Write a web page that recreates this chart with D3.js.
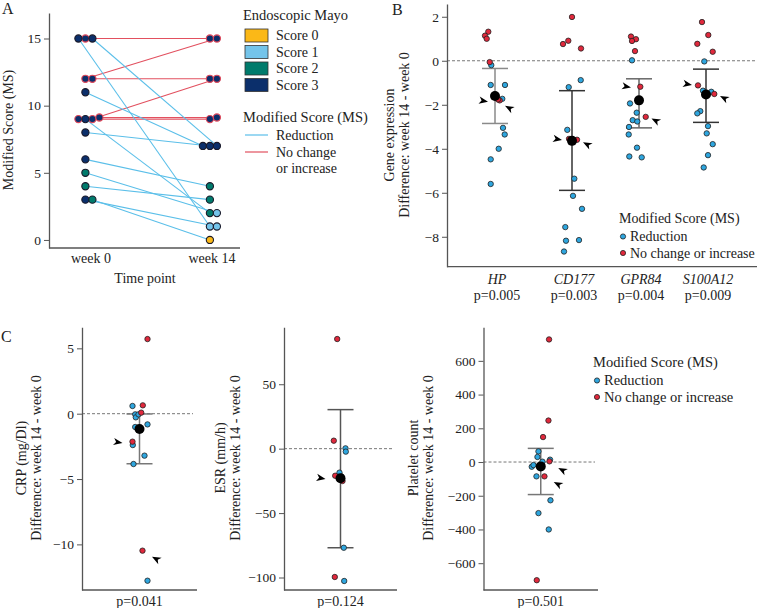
<!DOCTYPE html>
<html><head><meta charset="utf-8">
<script src="https://cdn.jsdelivr.net/npm/d3@7"></script>
<style>
body{margin:0;background:#fff}
svg{display:block}
text{font-family:"Liberation Serif","DejaVu Serif",serif;fill:#222}
</style>
</head><body><svg id="c" width="758" height="608"></svg>
<script>
// ---------------- DATA ----------------
// Panel A: Modified Score per patient at week 0 and week 14
const weeks = [0, 14];
const weekLabels = ["week 0", "week 14"];
const msWeek0  = [15,12,12, 9, 9, 9, 15,15,11, 9, 8, 6, 5, 4, 3, 3];
const msWeek14 = [15,15,12,12, 9, 9,  7, 1, 7, 2, 7, 4, 2, 3, 1, 0];
const mayoWeek0  = [3,3,3,3,3,3, 3,3,3,3,3,3,2,2,3,2];
const mayoWeek14 = [3,3,3,3,3,3, 3,1,3,2,3,2,1,2,1,0];
const msGroup = ["inc","inc","inc","inc","inc","inc","red","red","red","red","red","red","red","red","red","red"];
const slotWeek0  = [1,1,2,2,0,3, 2,0,1,1,1,1,1,1,1,2];   // dodge slot within a row
const slotWeek14 = [1,2,1,2,1,2, 2,1,0,1,1,1,2,1,2,1];
const dodgeUp    = [0,0,0,0,0,1, 0,0,0,0,0,0,0,0,0,0];
const aTicks = [0,5,10,15];
const mayoNames = ["Score 0","Score 1","Score 2","Score 3"];
const mayoColors = ["#fbb817","#74c4ea","#007b6c","#0b2f6b"];

// Panel B: gene expression difference
const genes = ["HP","CD177","GPR84","S100A12"];
const geneP = ["p=0.005","p=0.003","p=0.004","p=0.009"];
const geneMean = [-1.6,-3.64,-1.8,-1.53];
const geneLow  = [-2.85,-5.89,-3.05,-2.8];
const geneHigh = [-0.35,-1.36,-0.82,-0.38];
const bTicks = [2,0,-2,-4,-6,-8];
// [value, jitter]
const hpRed = [[-0.2,-3.7],[-1.1,-4.3],[-1.1,10],[-1.73,7.3],[-1.55,-1],[-3.05,8],[-3.35,9.7],[-4.0,3.7],[-4.48,-4.3],[-5.6,-4.3]];
const hpInc = [[1.32,-6.7],[1.14,-10],[1.0,-8.3],[-0.06,-5.3],[-1.8,4.7],[-1.76,3]];
const cd177Red = [[-0.88,8.7],[-1.2,-3.3],[-3.14,-4.7],[-5.36,2.3],[-6.14,1],[-6.73,10],[-7.56,-6.7],[-8.18,-6],[-8.15,7],[-8.67,-8]];
const cd177Inc = [[1.99,0],[0.91,-3.7],[0.76,-9],[0.56,9],[-3.55,-3],[-3.59,5]];
const gpr84Red = [[0.02,-7],[-1.94,-9],[-2.36,-2.3],[-2.7,-6.3],[-2.76,-1.7],[-3.01,-10],[-3.35,-10.3],[-3.95,-2],[-4.35,-9.7],[-4.39,2.7]];
const gpr84Inc = [[1.1,-8],[0.98,-3],[0.9,-7],[0.44,-4],[-1.18,1.3],[-2.55,6.7]];
const s100Red = [[-0.03,-1.7],[-1.36,-3],[-1.41,5.3],[-2.29,-5.7],[-2.39,-8.7],[-2.97,2],[-3.3,0.7],[-3.79,6.7],[-4.29,2],[-4.85,-2.3]];
const s100Inc = [[1.76,-4],[1.17,2.3],[0.77,-8.7],[0.41,6.7],[-1.12,-8],[-1.51,8.3]];
// arrows: [value, jitter, direction]
const hpArrows = [[-1.86,-7,"r"],[-2.05,10,"ul"]];
const cd177Arrows = [[-3.6,-10,"r"],[-3.7,11,"ul"]];
const gpr84Arrows = [[-1.21,-8,"r"],[-2.62,12.5,"ul"]];
const s100Arrows = [[-1.1,-14,"r"],[-1.6,14,"ul"]];

// Panel C: clinical markers
const crpTicks = [5,0,-5,-10];
const crpRed = [[0.59,-7],[-0.05,-4.3],[-0.28,-3.7],[-0.05,-1],[-1.02,-4.3],[-0.82,8],[-2.4,-6.7],[-3.21,5],[-3.85,-6],[-12.78,8]];
const crpInc = [[5.71,8],[0.64,3.3],[0.08,1.7],[-2.14,-7],[-10.48,3]];
const crpStats = [-1.17,-3.83,-0.02];
const crpArrows = [[-2.25,-17,"r"],[-10.95,12.5,"ul"]];

const esrTicks = [50,0,-50,-100];
const esrRed = [[0.26,5],[-2.3,5.3],[-18.6,-1],[-21.7,1],[-76.9,3.3],[-102.7,3.7]];
const esrInc = [[85.1,-3.3],[6.2,-6.7],[-21,-5.3],[-25.1,2],[-99.6,-5.7]];
const esrStats = [-23,-76.9,30.3];
const esrArrows = [[-23.5,-15,"r"]];

const pltTicks = [600,400,200,0,-200,-400,-600];
const pltRed = [[63,-2.3],[30,-3.3],[2,1.7],[-28,-9],[-18,-7.3],[14,9.3],[-85,-4.3],[-227,9.7],[-303,-2.3],[-400,8]];
const pltInc = [[727,8.3],[246,7.7],[148,2.3],[4,8.7],[-85,3.7],[-701,-4]];
const pltStats = [-26,-193,81];
const pltArrows = [[-35,17.5,"ul"],[-118,13,"ul"]];

// ---------------- DRAW ----------------
const svg = d3.select("#c");
const AX = "#555", TICK = "#333";
const COL_RED = "#2ea6df", COL_INC = "#e0283c";
const LINE_RED = "#5bbfe9", LINE_INC = "#e2505f";

function styleAxis(g){
  g.select(".domain").attr("stroke",AX).attr("stroke-width",1.3);
  g.selectAll(".tick line").attr("stroke",AX).attr("stroke-width",1);
  g.selectAll(".tick text").attr("fill",TICK).style("font-size","13.5px")
    .style("font-family",'"Liberation Serif","DejaVu Serif",serif');
}
function ylabel(x, yc, lines){
  const t = svg.append("text").attr("transform",`translate(${x},${yc}) rotate(-90)`)
    .attr("text-anchor","middle").style("font-size","14px");
  lines.forEach((l,i)=>t.append("tspan").attr("x",0).attr("dy",i===0?0:15).text(l));
}
function arrowPath(){ return "M0,0 L-9,-3.6 L-6.5,0 L-9,3.6 Z"; }

// ---- Panel A ----
const yA = d3.scaleLinear().domain([-0.6,16.9]).range([248,13]);
const xA = d3.scaleLinear().domain([0,14]).range([91,212]);
const axLeftA = 49, axRightA = 240;
svg.append("g").attr("transform",`translate(${axLeftA},0)`)
  .call(d3.axisLeft(yA).tickValues(aTicks).tickSize(5).tickSizeOuter(0).tickPadding(3)).call(styleAxis);
svg.append("line").attr("x1",axLeftA).attr("x2",axRightA).attr("y1",yA.range()[0]).attr("y2",yA.range()[0])
  .attr("stroke",AX).attr("stroke-width",1.3);
weeks.forEach((w,i)=>svg.append("text").attr("x",xA(w)).attr("y",263).attr("text-anchor","middle")
  .style("font-size","14px").text(weekLabels[i]));
svg.append("text").attr("x",145).attr("y",283).attr("text-anchor","middle").style("font-size","14px").text("Time point");
ylabel(13,130,["Modified Score (MS)"]);
svg.append("text").attr("x",2).attr("y",14).style("font-size","16px").text("A");

const px0 = i => xA(0) + (slotWeek0[i]-1.8)*7;
const px14 = i => xA(14) + (slotWeek14[i]-1.3)*7;
const py0 = i => yA(msWeek0[i]) - dodgeUp[i]*1.6;
const py14 = i => yA(msWeek14[i]) - dodgeUp[i]*1.6;
const idx = d3.range(msWeek0.length);
svg.append("g").selectAll("line").data(idx).join("line")
  .attr("x1",px0).attr("y1",py0).attr("x2",px14).attr("y2",py14)
  .attr("stroke",i=>msGroup[i]==="inc"?LINE_INC:LINE_RED).attr("stroke-width",1.1);
const ptsA = svg.append("g");
[[px0,py0,mayoWeek0],[px14,py14,mayoWeek14]].forEach(([fx,fy,mayo])=>{
  ptsA.append("g").selectAll("circle").data(idx).join("circle")
    .attr("cx",fx).attr("cy",fy).attr("r",3.6)
    .attr("fill",i=>mayoColors[mayo[i]])
    .attr("stroke",i=>msGroup[i]==="inc"?"#e0485a":"#1a1a2a").attr("stroke-width",1.1);
});

// Legend A
const lgA = svg.append("g");
lgA.append("text").attr("x",243).attr("y",20).style("font-size","14.5px").text("Endoscopic Mayo");
mayoNames.forEach((n,i)=>{
  lgA.append("rect").attr("x",245).attr("y",29+i*16.5).attr("width",23).attr("height",13)
    .attr("fill",mayoColors[i]).attr("stroke","#333").attr("stroke-width",0.8);
  lgA.append("text").attr("x",276).attr("y",40+i*16.5).style("font-size","14px").text(n);
});
lgA.append("text").attr("x",243).attr("y",122).style("font-size","14.5px").text("Modified Score (MS)");
lgA.append("line").attr("x1",245).attr("x2",268).attr("y1",135).attr("y2",135).attr("stroke",LINE_RED).attr("stroke-width",1.2);
lgA.append("text").attr("x",276).attr("y",139.5).style("font-size","14px").text("Reduction");
lgA.append("line").attr("x1",245).attr("x2",268).attr("y1",152).attr("y2",152).attr("stroke",LINE_INC).attr("stroke-width",1.2);
lgA.append("text").attr("x",276).attr("y",156.5).style("font-size","14px").text("No change");
lgA.append("text").attr("x",276).attr("y",172.5).style("font-size","14px").text("or increase");

// ---- strip helper ----
function strip(g, xc, y, red, inc, stats, arrows, errCol){
  const [m,lo,hi] = stats;
  g.append("line").attr("x1",xc).attr("x2",xc).attr("y1",y(lo)).attr("y2",y(hi)).attr("stroke",errCol).attr("stroke-width",1.5);
  [lo,hi].forEach(v=>g.append("line").attr("x1",xc-13).attr("x2",xc+13).attr("y1",y(v)).attr("y2",y(v))
    .attr("stroke",errCol).attr("stroke-width",1.5));
  const all = red.map(d=>[d[0],d[1],COL_RED]).concat(inc.map(d=>[d[0],d[1],COL_INC]));
  g.append("g").selectAll("circle").data(all).join("circle")
    .attr("cx",d=>xc+d[1]).attr("cy",d=>y(d[0])).attr("r",2.7)
    .attr("fill",d=>d[2]).attr("stroke","#222").attr("stroke-width",0.8);
  g.append("circle").attr("cx",xc).attr("cy",y(m)).attr("r",5).attr("fill","#000");
  g.append("g").selectAll("path").data(arrows).join("path")
    .attr("d",arrowPath())
    .attr("transform",d=>`translate(${xc+d[1]},${y(d[0])}) rotate(${d[2]==="r"?10:208})`)
    .attr("fill","#000");
}
function dashed(x1,x2,yv){
  svg.append("line").attr("x1",x1).attr("x2",x2).attr("y1",yv).attr("y2",yv)
    .attr("stroke","#777").attr("stroke-width",1).attr("stroke-dasharray","3,2");
}
function msLegend(x,y,fs){
  const g = svg.append("g");
  g.append("text").attr("x",x).attr("y",y).style("font-size",fs+"px").text("Modified Score (MS)");
  [["Reduction",COL_RED],["No change or increase",COL_INC]].forEach((d,i)=>{
    g.append("circle").attr("cx",x+4).attr("cy",y+13.5+i*16.5).attr("r",2.6).attr("fill",d[1]).attr("stroke","#222").attr("stroke-width",0.8);
    g.append("text").attr("x",x+11).attr("y",y+18+i*16.5).style("font-size",fs+"px").text(d[0]);
  });
}

// ---- Panel B ----
const yB = d3.scaleLinear().domain([-9.36,2.58]).range([266.7,4]);
const xB = d3.scaleOrdinal().domain(genes).range([495,572,639,706]);
const axLeftB = 447, axRightB = 757;
dashed(axLeftB, axRightB, yB(0));
svg.append("g").attr("transform",`translate(${axLeftB},0)`)
  .call(d3.axisLeft(yB).tickValues(bTicks).tickSize(5).tickSizeOuter(0).tickPadding(3)).call(styleAxis);
svg.append("line").attr("x1",axLeftB).attr("x2",axRightB).attr("y1",yB.range()[0]).attr("y2",yB.range()[0]).attr("stroke",AX).attr("stroke-width",1.3);
const bRed = [hpRed,cd177Red,gpr84Red,s100Red], bInc=[hpInc,cd177Inc,gpr84Inc,s100Inc];
const bArr = [hpArrows,cd177Arrows,gpr84Arrows,s100Arrows];
const bErrCol = ["#8a8a8a","#333","#666","#333"];
genes.forEach((gname,i)=>{
  strip(svg.append("g"), xB(gname), yB, bRed[i], bInc[i], [geneMean[i],geneLow[i],geneHigh[i]], bArr[i], bErrCol[i]);
  svg.append("text").attr("x",xB(gname)+2).attr("y",284).attr("text-anchor","middle").style("font-size","14px").style("font-style","italic").text(gname);
  svg.append("text").attr("x",xB(gname)+2).attr("y",300).attr("text-anchor","middle").style("font-size","14px").text(geneP[i]);
});
ylabel(394,135,["Gene expression","Difference: week 14 - week 0"]);
svg.append("text").attr("x",392).attr("y",15).style("font-size","16px").text("B");
msLegend(619,223,14);

// ---- Panel C ----
const cTop = 327.3, cBot = 590;
const panels = [
  {name:"CRP", dom:[-13.49,6.61], ticks:crpTicks, left:82, right:197, dashEnd:193, red:crpRed, inc:crpInc, stats:crpStats, arrows:crpArrows, col:"#777", p:"p=0.041", lab:["CRP (mg/Dl)","Difference: week 14 - week 0"], lx:26},
  {name:"ESR", dom:[-109.7,94.2], ticks:esrTicks, left:284, right:397, dashEnd:394, red:esrRed, inc:esrInc, stats:esrStats, arrows:esrArrows, col:"#555", p:"p=0.124", lab:["ESR (mm/h)","Difference: week 14 - week 0"], lx:225},
  {name:"PLT", dom:[-759,799], ticks:pltTicks, left:483.5, right:598, dashEnd:595, red:pltRed, inc:pltInc, stats:pltStats, arrows:pltArrows, col:"#777", p:"p=0.501", lab:["Platelet count","Difference: week 14 - week 0"], lx:418}
];
panels.forEach(P=>{
  const y = d3.scaleLinear().domain(P.dom).range([cBot,cTop]);
  const x = d3.scalePoint().domain([P.name]).range([P.left,P.right]).padding(0.5);
  dashed(P.left, P.dashEnd, y(0));
  svg.append("g").attr("transform",`translate(${P.left},0)`)
    .call(d3.axisLeft(y).tickValues(P.ticks).tickSize(5).tickSizeOuter(0).tickPadding(3)).call(styleAxis);
  svg.append("line").attr("x1",P.left).attr("x2",P.right).attr("y1",cBot).attr("y2",cBot).attr("stroke",AX).attr("stroke-width",1.3);
  strip(svg.append("g"), x(P.name), y, P.red, P.inc, P.stats, P.arrows, P.col);
  svg.append("text").attr("x",x(P.name)).attr("y",606).attr("text-anchor","middle").style("font-size","14px").text(P.p);
  ylabel(P.lx,458,P.lab);
});
svg.append("text").attr("x",1).attr("y",342).style("font-size","16px").text("C");
msLegend(593,367,14.5);
</script></body></html>
